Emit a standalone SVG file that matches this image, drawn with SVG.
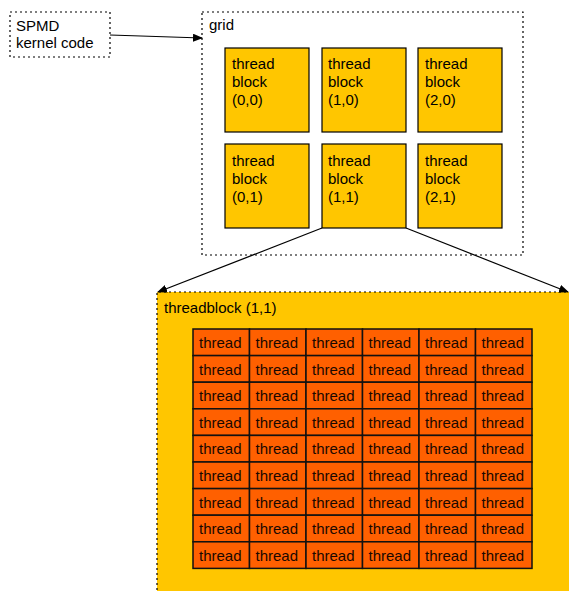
<svg xmlns="http://www.w3.org/2000/svg" width="569" height="591" viewBox="0 0 569 591">
<style>
text{font-family:"Liberation Sans",Arial,sans-serif;font-size:15px;fill:#000}
.dot{fill:none;stroke:#000;stroke-width:1.2;stroke-dasharray:2 3}
.blk rect{fill:#FFC600;stroke:#000;stroke-width:1.2}
.thr rect{fill:#FF6000;stroke:#111;stroke-width:1.5}
.thr text{fill:#1a0800}
.conn{fill:none;stroke:#000;stroke-width:1.2}
</style>
<defs>
<marker id="ah" markerWidth="10" markerHeight="8" refX="9" refY="4" orient="auto" markerUnits="userSpaceOnUse">
<path d="M0,0 L10,4 L0,8 Z" fill="#000"/>
</marker>
</defs>
<g id="spmd">
<rect class="dot" x="10" y="12" width="100" height="45"/>
<text x="16" y="31">SPMD</text>
<text x="16" y="48">kernel code</text>
</g>
<g id="grid">
<rect class="dot" x="202" y="12" width="321" height="243"/>
<text x="209" y="30">grid</text>
</g>
<g id="block00" class="blk"><rect x="225" y="48" width="84" height="84"/><text x="232" y="69">thread</text><text x="232" y="87">block</text><text x="232" y="105">(0,0)</text></g>
<g id="block10" class="blk"><rect x="322" y="48" width="84" height="84"/><text x="328" y="69">thread</text><text x="328" y="87">block</text><text x="328" y="105">(1,0)</text></g>
<g id="block20" class="blk"><rect x="418" y="48" width="84" height="84"/><text x="425" y="69">thread</text><text x="425" y="87">block</text><text x="425" y="105">(2,0)</text></g>
<g id="block01" class="blk"><rect x="225" y="144" width="84" height="84"/><text x="232" y="166">thread</text><text x="232" y="184">block</text><text x="232" y="202">(0,1)</text></g>
<g id="block11" class="blk"><rect x="322" y="144" width="84" height="84"/><text x="328" y="166">thread</text><text x="328" y="184">block</text><text x="328" y="202">(1,1)</text></g>
<g id="block21" class="blk"><rect x="418" y="144" width="84" height="84"/><text x="425" y="166">thread</text><text x="425" y="184">block</text><text x="425" y="202">(2,1)</text></g>
<g id="threadblock">
<rect x="157" y="292" width="420" height="310" fill="#FFC600"/>
<path class="dot" d="M157,600 V292 H569"/>
<text x="164" y="313">threadblock (1,1)</text>
</g>
<g id="threads" class="thr">
<rect x="193" y="329" width="56.5" height="26.6"/><rect x="249.5" y="329" width="56.5" height="26.6"/><rect x="306" y="329" width="56.5" height="26.6"/><rect x="362.5" y="329" width="56.5" height="26.6"/><rect x="419" y="329" width="56.5" height="26.6"/><rect x="475.5" y="329" width="56.5" height="26.6"/>
<rect x="193" y="355.6" width="56.5" height="26.6"/><rect x="249.5" y="355.6" width="56.5" height="26.6"/><rect x="306" y="355.6" width="56.5" height="26.6"/><rect x="362.5" y="355.6" width="56.5" height="26.6"/><rect x="419" y="355.6" width="56.5" height="26.6"/><rect x="475.5" y="355.6" width="56.5" height="26.6"/>
<rect x="193" y="382.2" width="56.5" height="26.6"/><rect x="249.5" y="382.2" width="56.5" height="26.6"/><rect x="306" y="382.2" width="56.5" height="26.6"/><rect x="362.5" y="382.2" width="56.5" height="26.6"/><rect x="419" y="382.2" width="56.5" height="26.6"/><rect x="475.5" y="382.2" width="56.5" height="26.6"/>
<rect x="193" y="408.8" width="56.5" height="26.6"/><rect x="249.5" y="408.8" width="56.5" height="26.6"/><rect x="306" y="408.8" width="56.5" height="26.6"/><rect x="362.5" y="408.8" width="56.5" height="26.6"/><rect x="419" y="408.8" width="56.5" height="26.6"/><rect x="475.5" y="408.8" width="56.5" height="26.6"/>
<rect x="193" y="435.4" width="56.5" height="26.6"/><rect x="249.5" y="435.4" width="56.5" height="26.6"/><rect x="306" y="435.4" width="56.5" height="26.6"/><rect x="362.5" y="435.4" width="56.5" height="26.6"/><rect x="419" y="435.4" width="56.5" height="26.6"/><rect x="475.5" y="435.4" width="56.5" height="26.6"/>
<rect x="193" y="462" width="56.5" height="26.6"/><rect x="249.5" y="462" width="56.5" height="26.6"/><rect x="306" y="462" width="56.5" height="26.6"/><rect x="362.5" y="462" width="56.5" height="26.6"/><rect x="419" y="462" width="56.5" height="26.6"/><rect x="475.5" y="462" width="56.5" height="26.6"/>
<rect x="193" y="488.6" width="56.5" height="26.6"/><rect x="249.5" y="488.6" width="56.5" height="26.6"/><rect x="306" y="488.6" width="56.5" height="26.6"/><rect x="362.5" y="488.6" width="56.5" height="26.6"/><rect x="419" y="488.6" width="56.5" height="26.6"/><rect x="475.5" y="488.6" width="56.5" height="26.6"/>
<rect x="193" y="515.2" width="56.5" height="26.6"/><rect x="249.5" y="515.2" width="56.5" height="26.6"/><rect x="306" y="515.2" width="56.5" height="26.6"/><rect x="362.5" y="515.2" width="56.5" height="26.6"/><rect x="419" y="515.2" width="56.5" height="26.6"/><rect x="475.5" y="515.2" width="56.5" height="26.6"/>
<rect x="193" y="541.8" width="56.5" height="26.6"/><rect x="249.5" y="541.8" width="56.5" height="26.6"/><rect x="306" y="541.8" width="56.5" height="26.6"/><rect x="362.5" y="541.8" width="56.5" height="26.6"/><rect x="419" y="541.8" width="56.5" height="26.6"/><rect x="475.5" y="541.8" width="56.5" height="26.6"/>
<text x="199" y="348">thread</text><text x="255.5" y="348">thread</text><text x="312" y="348">thread</text><text x="368.5" y="348">thread</text><text x="425" y="348">thread</text><text x="481.5" y="348">thread</text>
<text x="199" y="374.6">thread</text><text x="255.5" y="374.6">thread</text><text x="312" y="374.6">thread</text><text x="368.5" y="374.6">thread</text><text x="425" y="374.6">thread</text><text x="481.5" y="374.6">thread</text>
<text x="199" y="401.2">thread</text><text x="255.5" y="401.2">thread</text><text x="312" y="401.2">thread</text><text x="368.5" y="401.2">thread</text><text x="425" y="401.2">thread</text><text x="481.5" y="401.2">thread</text>
<text x="199" y="427.8">thread</text><text x="255.5" y="427.8">thread</text><text x="312" y="427.8">thread</text><text x="368.5" y="427.8">thread</text><text x="425" y="427.8">thread</text><text x="481.5" y="427.8">thread</text>
<text x="199" y="454.4">thread</text><text x="255.5" y="454.4">thread</text><text x="312" y="454.4">thread</text><text x="368.5" y="454.4">thread</text><text x="425" y="454.4">thread</text><text x="481.5" y="454.4">thread</text>
<text x="199" y="481">thread</text><text x="255.5" y="481">thread</text><text x="312" y="481">thread</text><text x="368.5" y="481">thread</text><text x="425" y="481">thread</text><text x="481.5" y="481">thread</text>
<text x="199" y="507.6">thread</text><text x="255.5" y="507.6">thread</text><text x="312" y="507.6">thread</text><text x="368.5" y="507.6">thread</text><text x="425" y="507.6">thread</text><text x="481.5" y="507.6">thread</text>
<text x="199" y="534.2">thread</text><text x="255.5" y="534.2">thread</text><text x="312" y="534.2">thread</text><text x="368.5" y="534.2">thread</text><text x="425" y="534.2">thread</text><text x="481.5" y="534.2">thread</text>
<text x="199" y="560.8">thread</text><text x="255.5" y="560.8">thread</text><text x="312" y="560.8">thread</text><text x="368.5" y="560.8">thread</text><text x="425" y="560.8">thread</text><text x="481.5" y="560.8">thread</text>
</g>
<g id="connectors">
<line class="conn" x1="110" y1="35" x2="202" y2="38" marker-end="url(#ah)"/>
<line class="conn" x1="322" y1="228" x2="158" y2="292" marker-end="url(#ah)"/>
<line class="conn" x1="406" y1="228" x2="568" y2="292" marker-end="url(#ah)"/>
</g>
</svg>
